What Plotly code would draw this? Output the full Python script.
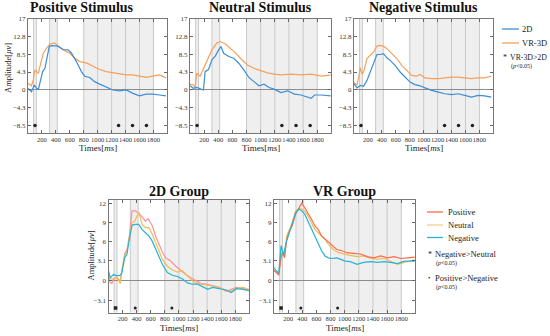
import plotly.graph_objects as go

W, H = 550, 336
FONT = "Liberation Serif, Times New Roman, serif"

# ---------------- data ----------------
# Top row: 2D vs VR-3D
pos_2d_t = [0, 50, 90, 124, 150, 180, 210, 243, 267, 305, 338, 433, 505, 576, 624, 695, 767, 814, 886, 957, 1029, 1124, 1219, 1314, 1410, 1505, 1600, 1695, 1790, 1886, 1981]
pos_2d_v = [0.4, -0.4, 1.2, 0.4, 0.2, 2.0, 4.4, 5.2, 7.2, 10.4, 10.6, 10.5, 9.7, 9.6, 8.8, 6.8, 4.4, 3.3, 3.0, 2.0, 1.4, 0.6, 0.0, -0.2, 0.0, -0.8, -1.4, -1.0, -1.0, -1.2, -1.4]
pos_vr_t = [0, 50, 76, 100, 124, 148, 171, 219, 267, 314, 386, 433, 505, 600, 671, 743, 838, 933, 1029, 1124, 1219, 1314, 1410, 1505, 1600, 1695, 1790, 1886, 1981]
pos_vr_v = [1.6, 1.0, 2.4, 4.8, 4.4, 4.0, 5.6, 8.8, 10.0, 11.0, 11.3, 10.4, 9.6, 8.8, 7.6, 6.8, 6.5, 5.7, 4.9, 4.4, 4.1, 3.8, 3.6, 3.6, 3.3, 3.0, 3.3, 3.6, 2.9]

neu_2d_t = [0, 48, 95, 143, 190, 214, 262, 310, 357, 405, 438, 476, 548, 619, 690, 762, 833, 905, 976, 1048, 1119, 1190, 1286, 1381, 1476, 1571, 1714, 1762, 1857, 1990]
neu_2d_v = [1.0, 0.4, 0.6, 0.3, 0.0, 4.4, 4.9, 7.2, 8.1, 9.6, 10.4, 8.8, 8.0, 7.6, 6.4, 4.8, 3.0, 2.0, 1.0, 1.4, 0.6, 0.2, -0.6, -0.2, -1.0, -1.2, -2.0, -1.2, -1.2, -1.4]
neu_vr_t = [0, 48, 71, 95, 143, 190, 238, 310, 381, 429, 500, 571, 643, 714, 810, 905, 1000, 1095, 1190, 1286, 1429, 1571, 1714, 1857, 1990]
neu_vr_v = [1.4, 1.2, 0.6, 4.0, 3.3, 5.2, 6.8, 9.6, 11.3, 11.6, 11.0, 10.0, 8.9, 7.6, 6.0, 5.2, 4.6, 4.1, 3.8, 3.6, 3.8, 3.6, 3.8, 3.3, 3.6]

neg_2d_t = [0, 43, 90, 138, 186, 233, 281, 329, 376, 424, 471, 519, 590, 662, 733, 805, 876, 948, 1019, 1114, 1210, 1305, 1400, 1495, 1590, 1686, 1781, 1876, 1971]
neg_2d_v = [1.5, 0.5, 1.1, 0.9, 2.3, 4.3, 6.7, 8.5, 8.5, 8.7, 7.7, 7.1, 5.9, 4.3, 3.1, 1.9, 1.3, 1.0, 0.5, -0.1, -0.5, -0.9, -1.1, -0.9, -1.3, -1.7, -1.3, -1.4, -1.7]
neg_vr_t = [0, 43, 67, 90, 114, 138, 186, 233, 281, 329, 376, 424, 471, 543, 614, 686, 757, 829, 900, 948, 1019, 1114, 1210, 1305, 1400, 1495, 1590, 1686, 1781, 1876, 1971]
neg_vr_v = [1.8, 1.1, 3.1, 5.3, 3.9, 4.3, 7.5, 8.3, 9.1, 10.5, 10.7, 10.5, 9.9, 8.7, 7.5, 5.9, 4.7, 3.5, 3.3, 3.7, 2.9, 2.7, 2.7, 2.9, 3.1, 3.1, 2.9, 2.7, 2.9, 2.9, 3.3]

# Bottom row: groups
g2d_pos_t = [0, 24, 48, 72, 119, 167, 191, 229, 263, 296, 334, 382, 430, 478, 525, 563, 621, 669, 716, 764, 812, 883, 955, 1027, 1098, 1170, 1242, 1313, 1385, 1480, 1576, 1671, 1743, 1815, 1910, 1995]
g2d_pos_v = [0.7, -0.3, -0.5, 0.2, 0.4, -0.1, 1.5, 4.1, 4.8, 6.9, 10.8, 10.8, 10.5, 9.8, 9.2, 9.6, 8.5, 6.9, 5.6, 4.4, 3.5, 3.0, 2.2, 1.5, 0.9, 0.4, -0.1, -0.5, -0.6, -0.9, -1.1, -1.7, -1.4, -1.1, -1.3, -1.5]
g2d_neu_t = [0, 48, 119, 167, 191, 229, 263, 296, 334, 372, 406, 430, 478, 525, 573, 621, 669, 716, 764, 836, 907, 979, 1051, 1122, 1194, 1265, 1337, 1433, 1528, 1624, 1719, 1815, 1910, 1995]
g2d_neu_v = [0.4, 0.2, 0.4, -0.5, 1.7, 3.8, 4.6, 6.9, 9.0, 9.2, 10.0, 10.6, 8.7, 8.2, 8.2, 7.2, 5.9, 4.6, 3.3, 2.2, 1.6, 1.3, 1.5, 0.7, -0.1, -0.5, -0.6, -0.8, -1.0, -1.3, -1.7, -1.3, -1.1, -1.4]
g2d_neg_t = [0, 24, 72, 119, 167, 191, 229, 263, 296, 334, 382, 430, 478, 525, 573, 621, 669, 716, 764, 836, 907, 979, 1051, 1122, 1194, 1265, 1337, 1409, 1480, 1576, 1671, 1743, 1815, 1910, 1995]
g2d_neg_v = [1.5, 0.4, 0.9, 0.7, 0.8, 1.2, 3.5, 4.1, 6.4, 8.6, 8.7, 8.7, 7.9, 7.4, 6.9, 6.1, 4.8, 3.5, 2.5, 1.2, 0.8, 0.6, 0.2, -0.4, -0.6, -0.6, -1.0, -1.4, -1.1, -1.3, -1.5, -1.9, -1.3, -1.4, -1.6]

gvr_pos_t = [0, 29, 67, 100, 124, 148, 181, 220, 258, 306, 353, 392, 435, 482, 530, 578, 626, 673, 721, 769, 817, 888, 960, 1032, 1127, 1223, 1318, 1414, 1509, 1605, 1700, 1796, 1891, 1990]
gvr_pos_v = [1.6, 1.3, 0.8, 3.5, 4.6, 3.5, 6.4, 7.7, 8.5, 10.3, 11.3, 12.0, 11.3, 10.5, 9.5, 8.5, 7.9, 6.9, 6.4, 5.9, 5.4, 4.8, 4.6, 4.3, 4.2, 4.1, 3.7, 3.5, 3.8, 3.5, 3.7, 3.4, 3.5, 3.6]
gvr_neu_t = [0, 67, 100, 148, 181, 220, 258, 306, 353, 392, 435, 482, 530, 578, 626, 673, 721, 769, 840, 912, 984, 1079, 1175, 1270, 1366, 1461, 1557, 1652, 1748, 1843, 1990]
gvr_neu_v = [1.5, 1.1, 4.1, 3.8, 6.9, 7.9, 9.0, 10.8, 11.2, 11.1, 10.8, 10.0, 9.0, 7.9, 7.4, 6.9, 6.4, 5.6, 4.8, 4.3, 4.1, 3.9, 3.7, 3.8, 3.4, 3.3, 3.4, 3.0, 2.5, 2.8, 3.2]
gvr_neg_t = [0, 29, 67, 100, 134, 172, 210, 258, 306, 353, 392, 435, 482, 530, 578, 626, 673, 721, 769, 817, 888, 936, 1008, 1079, 1175, 1270, 1366, 1461, 1557, 1652, 1748, 1843, 1990]
gvr_neg_v = [2.0, 1.5, 1.1, 5.4, 3.9, 5.9, 7.2, 8.7, 10.5, 11.1, 10.8, 10.3, 9.2, 7.9, 6.9, 5.6, 4.6, 3.8, 3.5, 3.4, 3.5, 3.3, 3.0, 2.9, 2.5, 2.8, 2.9, 2.8, 2.9, 2.8, 2.6, 3.0, 3.0]

# significance markers
top_sig_t = [100, 1300, 1500, 1700]
top_sig_y = [-8.5, -8.5, -8.5, -8.5]
bot_sig1_t = [100]
bot_sig1_y = [-4.3]
bot_sig2_t = [380, 900]
bot_sig2_y = [-4.3, -4.3]

top_titles = ["Positive Stimulus", "Neutral Stimulus", "Negative Stimulus"]
bot_titles = ["2D Group", "VR Group"]
top_yticks = [-8.5, -4.3, 0, 4.3, 8.5, 12.8, 17]
top_yticktext = ["\u22128.5", "\u22124.3", "0", "4.3", "8.5", "12.8", "17"]
bot_yticks = [-3.1, 0, 3.1, 6, 9, 12]
bot_yticktext = ["\u22123.1", "0", "3.1", "6", "9", "12"]
xticks = [200, 400, 600, 800, 1000, 1200, 1400, 1600, 1800]

band_edges = [(80, 120), (310, 420), (800, 1800)]
divider_lines = [80, 120, 310, 420, 800, 1000, 1200, 1400, 1600, 1800]

C_2D = "#3b8ed8"
C_VR = "#f7a05a"
C_POS_2D = "#ff8f9c"
C_POS_VR = "#ff6a4d"
C_NEU = "#efbd55"
C_NEG = "#27b3d3"

# ---------------- layout helpers ----------------
def px2x(px):
    return px / W

def px2y(py):
    return 1 - py / H

panels = [
    # (x0, x1, y0, y1) in pixels
    (28, 167, 19, 133),
    (190, 331, 19, 133),
    (354, 493, 19, 133),
    (108.5, 249, 200, 312.5),
    (274, 415, 200, 312.5),
]
title_x = [82, 260.5, 423.5, 179, 344.5]

fig = go.Figure()
layout = dict(
    template="none",
    width=W, height=H, margin=dict(l=0, r=0, t=0, b=0, autoexpand=False),
    paper_bgcolor="white", plot_bgcolor="white",
    showlegend=False, font=dict(family=FONT, color="#222"),
)
shapes = []
annotations = []

for i, (x0, x1, y0, y1) in enumerate(panels):
    n = i + 1
    xa = "xaxis" if n == 1 else f"xaxis{n}"
    ya = "yaxis" if n == 1 else f"yaxis{n}"
    xr = "x" if n == 1 else f"x{n}"
    yr = "y" if n == 1 else f"y{n}"
    top = i < 3
    layout[xa] = dict(
        domain=[px2x(x0), px2x(x1)], anchor=yr, range=[0, 1995], automargin=False,
        tickvals=xticks, ticktext=[str(v) for v in xticks], tickangle=0,
        ticks="inside", ticklen=3, tickcolor="#666",
        showline=True, linecolor="#777", linewidth=1, mirror="ticks",
        showgrid=False, zeroline=False,
        tickfont=dict(family=FONT, size=6.6, color="#333"),
    )
    layout[ya] = dict(
        domain=[px2y(y1), px2y(y0)], anchor=xr, automargin=False,
        range=[-10.3, 17] if top else [-5.0, 12.5],
        tickvals=top_yticks if top else bot_yticks,
        ticktext=top_yticktext if top else bot_yticktext,
        ticks="inside", ticklen=3, tickcolor="#666",
        showline=True, linecolor="#777", linewidth=1, mirror="ticks",
        showgrid=False, zeroline=True, zerolinecolor="#8c8c8c", zerolinewidth=1,
        tickfont=dict(family=FONT, size=7, color="#333"),
    )
    for a, b in band_edges:
        shapes.append(dict(type="rect", xref=xr, yref=f"{yr} domain", x0=a, x1=b, y0=0, y1=1,
                           fillcolor="#efefef", line=dict(width=0), layer="below"))
    for v in divider_lines:
        shapes.append(dict(type="line", xref=xr, yref=f"{yr} domain", x0=v, x1=v, y0=0, y1=1,
                           line=dict(color="#c9c9c9", width=1), layer="below"))

    # title
    title = top_titles[i] if top else bot_titles[i - 3]
    ty = 7.5 if top else 191
    annotations.append(dict(text=f"<b>{title}</b>", xref="paper", yref="paper",
                            x=px2x(title_x[i]), y=px2y(ty), showarrow=False,
                            font=dict(family=FONT, size=14, color="#111"),
                            xanchor="center", yanchor="middle"))
    # x title
    annotations.append(dict(text="Times[<i>ms</i>]", xref="paper", yref="paper",
                            x=px2x((x0 + x1) / 2), y=px2y(y1 + 15), showarrow=False,
                            font=dict(family=FONT, size=9, color="#222"),
                            xanchor="center", yanchor="middle"))

# y titles
annotations.append(dict(text="Amplitude[<i>\u03bcv</i>]", xref="paper", yref="paper",
                        x=px2x(8), y=px2y(68), textangle=-90, showarrow=False,
                        font=dict(family=FONT, size=8.5, color="#222"),
                        xanchor="center", yanchor="middle"))
annotations.append(dict(text="Amplitude[<i>\u03bcv</i>]", xref="paper", yref="paper",
                        x=px2x(90.5), y=px2y(256), textangle=-90, showarrow=False,
                        font=dict(family=FONT, size=8.5, color="#222"),
                        xanchor="center", yanchor="middle"))

def add_line(t, v, color, n):
    xr = "x" if n == 1 else f"x{n}"
    yr = "y" if n == 1 else f"y{n}"
    fig.add_trace(go.Scatter(x=t, y=v, mode="lines", line=dict(color=color, width=1.2),
                             xaxis=xr, yaxis=yr, hoverinfo="skip"))

def add_marks(t, v, n, size, symbol="circle"):
    xr = "x" if n == 1 else f"x{n}"
    yr = "y" if n == 1 else f"y{n}"
    fig.add_trace(go.Scatter(x=t, y=v, mode="markers",
                             marker=dict(color="#222", size=size, symbol=symbol, line=dict(width=0)),
                             xaxis=xr, yaxis=yr, hoverinfo="skip"))

# top row
add_line(pos_vr_t, pos_vr_v, C_VR, 1)
add_line(pos_2d_t, pos_2d_v, C_2D, 1)
add_line(neu_vr_t, neu_vr_v, C_VR, 2)
add_line(neu_2d_t, neu_2d_v, C_2D, 2)
add_line(neg_vr_t, neg_vr_v, C_VR, 3)
add_line(neg_2d_t, neg_2d_v, C_2D, 3)
for n in (1, 2, 3):
    add_marks(top_sig_t, top_sig_y, n, 3.5)

# bottom row
add_line(g2d_pos_t, g2d_pos_v, C_POS_2D, 4)
add_line(g2d_neu_t, g2d_neu_v, C_NEU, 4)
add_line(g2d_neg_t, g2d_neg_v, C_NEG, 4)
add_line(gvr_neu_t, gvr_neu_v, C_NEU, 5)
add_line(gvr_pos_t, gvr_pos_v, C_POS_VR, 5)
add_line(gvr_neg_t, gvr_neg_v, C_NEG, 5)
for n in (4, 5):
    add_marks(bot_sig1_t, bot_sig1_y, n, 3.5, "square")
    add_marks(bot_sig2_t, bot_sig2_y, n, 3)

# ---------------- legends (drawn manually) ----------------
def leg_line(x0, x1, y, color):
    shapes.append(dict(type="line", xref="paper", yref="paper",
                       x0=px2x(x0), x1=px2x(x1), y0=px2y(y), y1=px2y(y),
                       line=dict(color=color, width=1.3)))

def leg_text(x, y, text, size=8.5):
    annotations.append(dict(text=text, xref="paper", yref="paper", x=px2x(x), y=px2y(y),
                            showarrow=False, xanchor="left", yanchor="middle",
                            font=dict(family=FONT, size=size, color="#222")))

leg_line(502, 519, 29, C_2D)
leg_text(520, 29, "2D")
leg_line(502, 519, 43, C_VR)
leg_text(520, 43, "VR-3D")
leg_text(501, 57, "*", 8)
leg_text(508, 57, "VR-3D>2D", 7.8)
leg_text(509, 67, "(<i>p</i><0.05)", 6)

leg_line(427, 443, 212, C_POS_VR)
leg_text(446, 212, "Positive")
leg_line(427, 443, 225, "#f4cf8c")
leg_text(446, 225, "Neutral")
leg_line(427, 443, 237.5, C_NEG)
leg_text(446, 237.5, "Negative")
leg_text(426, 254, "*", 8)
leg_text(433, 254, "Negative>Neutral")
leg_text(434, 263, "(<i>p</i><0.05)", 6)
leg_text(426, 278, "\u2022", 7)
leg_text(433, 278, "Positive>Negative")
leg_text(434, 287, "(<i>p</i><0.05)", 6)

layout["shapes"] = shapes
layout["annotations"] = annotations
fig.update_layout(**layout)
fig.write_html("out.html", config={"displayModeBar": False},
               post_script="document.body.style.margin='0px';")
